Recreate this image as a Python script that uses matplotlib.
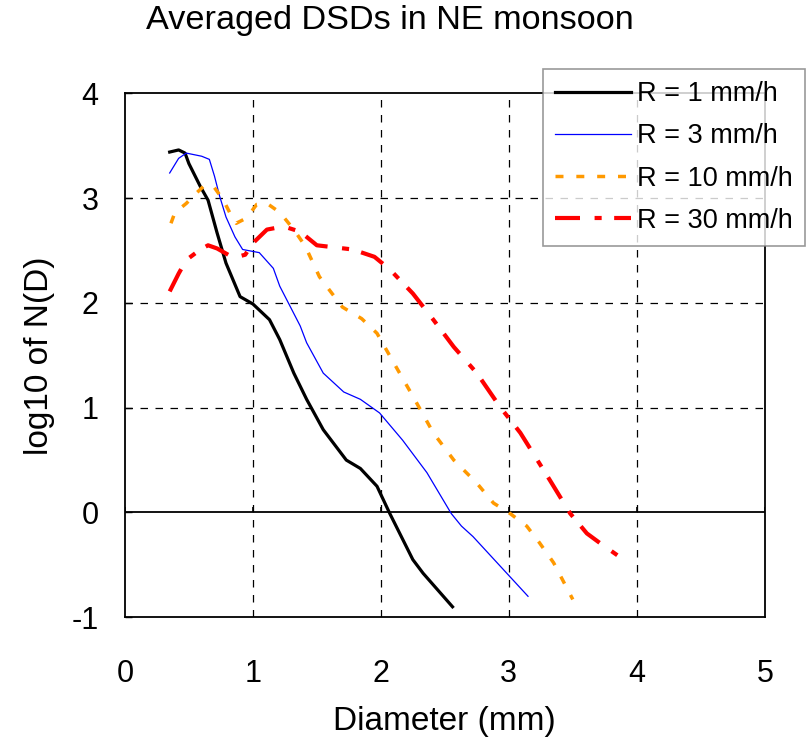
import matplotlib
matplotlib.use("Agg")
import matplotlib.pyplot as plt

plt.rcParams['font.family'] = ['Liberation Sans', 'DejaVu Sans']
plt.rcParams['axes.unicode_minus'] = False

# Diameter (mm) and log10 N(D) for each rain rate
d_r1 = [0.35, 0.42, 0.47, 0.50, 0.59, 0.65, 0.72, 0.79, 0.90, 1.00, 1.13, 1.21,
        1.32, 1.42, 1.55, 1.73, 1.84, 1.97, 2.07, 2.25, 2.33, 2.56]
n_r1 = [3.44, 3.46, 3.43, 3.33, 3.11, 2.98, 2.67, 2.38, 2.06, 1.99, 1.84, 1.65,
        1.33, 1.08, 0.79, 0.50, 0.42, 0.25, -0.01, -0.45, -0.58, -0.90]

d_r3 = [0.35, 0.42, 0.48, 0.60, 0.66, 0.70, 0.74, 0.79, 0.86, 0.92, 1.05, 1.16,
        1.21, 1.37, 1.42, 1.55, 1.71, 1.84, 1.99, 2.17, 2.36, 2.55, 2.63, 2.72, 3.15]
n_r3 = [3.24, 3.38, 3.43, 3.40, 3.37, 3.21, 3.02, 2.82, 2.63, 2.51, 2.48, 2.33,
        2.16, 1.78, 1.62, 1.33, 1.15, 1.08, 0.95, 0.69, 0.38, -0.01, -0.13, -0.23, -0.80]

d_r10 = [0.36, 0.39, 0.48, 0.56, 0.63, 0.70, 0.77, 0.82, 0.87, 0.95, 1.03, 1.11,
         1.18, 1.24, 1.32, 1.41, 1.52, 1.60, 1.70, 1.85, 1.97, 2.10, 2.25, 2.41,
         2.57, 2.75, 2.88, 3.01, 3.14, 3.24, 3.35, 3.50]
n_r10 = [2.76, 2.86, 2.95, 3.05, 3.13, 3.10, 2.98, 2.86, 2.76, 2.81, 2.94, 2.95,
         2.89, 2.82, 2.70, 2.54, 2.25, 2.12, 1.96, 1.85, 1.71, 1.43, 1.11, 0.76,
         0.50, 0.28, 0.09, -0.01, -0.13, -0.29, -0.48, -0.83]

d_r30 = [0.35, 0.42, 0.48, 0.59, 0.65, 0.72, 0.85, 0.94, 1.00, 1.11, 1.24, 1.37,
         1.50, 1.78, 1.95, 2.07, 2.25, 2.41, 2.57, 2.75, 2.93, 3.09, 3.32, 3.48,
         3.61, 3.71, 3.92]
n_r30 = [2.11, 2.28, 2.41, 2.51, 2.55, 2.52, 2.43, 2.46, 2.57, 2.70, 2.73, 2.68,
         2.55, 2.51, 2.44, 2.32, 2.09, 1.84, 1.58, 1.33, 1.01, 0.76, 0.31, -0.01,
         -0.20, -0.29, -0.47]

labels = ["R = 1 mm/h", "R = 3 mm/h", "R = 10 mm/h", "R = 30 mm/h"]

fig = plt.figure(figsize=(8.11, 7.41), dpi=100)
ax = fig.add_axes([0.154, 0.167, 0.789, 0.707])

ax.plot(d_r1, n_r1, color='black', lw=2.3, label=labels[0])
ax.plot(d_r3, n_r3, color='#0000ff', lw=0.9, label=labels[1])
ax.plot(d_r10, n_r10, color='#ff9900', lw=2.5, dashes=(2.3, 3.7), label=labels[2])
ax.plot(d_r30, n_r30, color='#ff0000', lw=3.0, dashes=(6, 3.5, 1.7, 3), label=labels[3])

ax.set_xlim(0, 5)
ax.set_ylim(-1, 4)
ax.set_xticks(range(0, 6))
ax.set_yticks(range(-1, 5))
ax.tick_params(axis='both', labelsize=22, direction='in', length=5, width=1)
ax.tick_params(axis='x', length=0, pad=30)
ax.tick_params(axis='y', pad=19)

# dashed grid, zero line drawn solid with its own small ticks
for v in range(1, 5):
    ax.axvline(v, color='black', lw=0.9, ls=(0, (6, 6)), zorder=0)
for v in range(1, 4):
    ax.axhline(v, color='black', lw=0.9, ls=(0, (6, 6)), zorder=0)
ax.axhline(0, color='black', lw=1.3, zorder=1)
ax.vlines(range(0, 6), 0, 0.05, color='black', lw=1.2)

for s in ax.spines.values():
    s.set_linewidth(1.3)

ax.set_xlabel("Diameter (mm)", fontsize=24, labelpad=12)
ax.set_ylabel("log10 of N(D)", fontsize=24, labelpad=12)
fig.text(0.481, 0.973, "Averaged DSDs in NE monsoon", fontsize=24.7,
         ha='center', va='center')

leg = fig.legend(loc='upper left', bbox_to_anchor=(0.669, 0.907), fontsize=19.5,
                 frameon=True, fancybox=False, handlelength=2.8, handletextpad=0.25,
                 borderpad=0.45, labelspacing=0.6, borderaxespad=0)
leg.get_frame().set_edgecolor('#808080')
leg.get_frame().set_linewidth(1.2)

fig.savefig("out.png", dpi=100)
